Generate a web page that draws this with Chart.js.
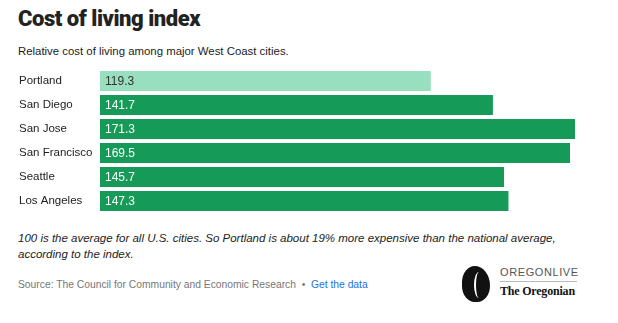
<!DOCTYPE html>
<html>
<head>
<meta charset="utf-8">
<script src="https://cdn.jsdelivr.net/npm/chart.js@4"></script>
<style>
  body { margin: 0; background: #fff; font-family: "Liberation Sans", Arial, sans-serif; color: #222; }
  #page { position: relative; width: 618px; height: 323px; overflow: hidden; }
  .abs { position: absolute; white-space: nowrap; }
  #title { left: 18px; top: 6px; font-family: Roboto, sans-serif; font-weight: 900; font-size: 22px; color: #222; letter-spacing: -0.45px; }
  #subtitle { left: 18px; top: 45px; font-size: 11.4px; color: #222; }
  #chart { position: absolute; left: 0; top: 60px; }
  #note { left: 18px; top: 230px; font-size: 11.5px; font-style: italic; color: #222; line-height: 16px; }
  #source { left: 18px; top: 279px; font-size: 10.3px; color: #777; }
  #source a { color: #1a73e8; text-decoration: none; }
  #logoO { position: absolute; left: 462px; top: 266px; width: 28px; height: 36px; background: #111; border-radius: 50% 60% 50% 50%; }
  #logoStroke { position: absolute; left: 474px; top: 272px; width: 8px; height: 26px; border-left: 2px solid #fff; border-radius: 50% 0 0 50%; }
  #logo1 { left: 500px; top: 266px; font-size: 11px; color: #555; letter-spacing: 0.6px; }
  #logoLine { position: absolute; left: 500px; top: 281px; width: 77px; height: 1px; background: #bbb; }
  #logo2 { left: 500px; top: 284px; font-family: "Liberation Serif", serif; font-weight: bold; font-size: 12px; color: #111; letter-spacing: -0.2px; }
</style>
</head>
<body>
<div id="page">
  <div id="title" class="abs">Cost of living index</div>
  <div id="subtitle" class="abs">Relative cost of living among major West Coast cities.</div>
  <canvas id="chart" width="618" height="160"></canvas>
  <div id="note" class="abs">100 is the average for all U.S. cities. So Portland is about 19% more expensive than the national average,<br>according to the index.</div>
  <div id="source" class="abs">Source: The Council for Community and Economic Research &nbsp;•&nbsp; <a>Get the data</a></div>
  <div id="logoO"></div>
  <div id="logoStroke"></div>
  <div id="logo1" class="abs">OREGONLIVE</div>
  <div id="logoLine"></div>
  <div id="logo2" class="abs">The Oregonian</div>
</div>
<script>
// 城市与指数
const cities = ['Portland', 'San Diego', 'San Jose', 'San Francisco', 'Seattle', 'Los Angeles'];
const indexValues = [119.3, 141.7, 171.3, 169.5, 145.7, 147.3];

const lightGreen = '#98dfbf';
const darkGreen = '#169a58';

// 柱内数值标签
const valueLabels = {
    id: 'valueLabels',
    afterDatasetsDraw(chart) {
        const ctx = chart.ctx;
        const meta = chart.getDatasetMeta(0);
        ctx.save();
        ctx.font = '12px "Liberation Sans", Arial, sans-serif';
        ctx.textBaseline = 'middle';
        ctx.textAlign = 'left';
        meta.data.forEach((bar, i) => {
            ctx.fillStyle = i === 0 ? '#333' : '#fff';
            ctx.fillText(indexValues[i].toFixed(1), bar.base + 5, bar.y + 1);
        });
        ctx.restore();
    }
};

new Chart(document.getElementById('chart'), {
    type: 'bar',
    data: {
        labels: cities,
        datasets: [{
            data: indexValues,
            backgroundColor: cities.map((c, i) => i === 0 ? lightGreen : darkGreen),
            borderWidth: 0,
            barPercentage: 20 / 24,
            categoryPercentage: 1
        }]
    },
    options: {
        indexAxis: 'y',
        responsive: false,
        animation: false,
        layout: { padding: { left: 19, right: 43, top: 9, bottom: 7 } },
        plugins: { legend: { display: false }, tooltip: { enabled: false } },
        scales: {
            x: { display: false, min: 0, max: 171.3 },
            y: {
                grid: { display: false },
                border: { display: false },
                afterFit(scale) { scale.width = 81; },
                ticks: {
                    crossAlign: 'far',
                    padding: 0,
                    color: '#222',
                    font: { family: '"Liberation Sans", Arial, sans-serif', size: 11.5 }
                }
            }
        }
    },
    plugins: [valueLabels]
});
</script>
</body>
</html>
